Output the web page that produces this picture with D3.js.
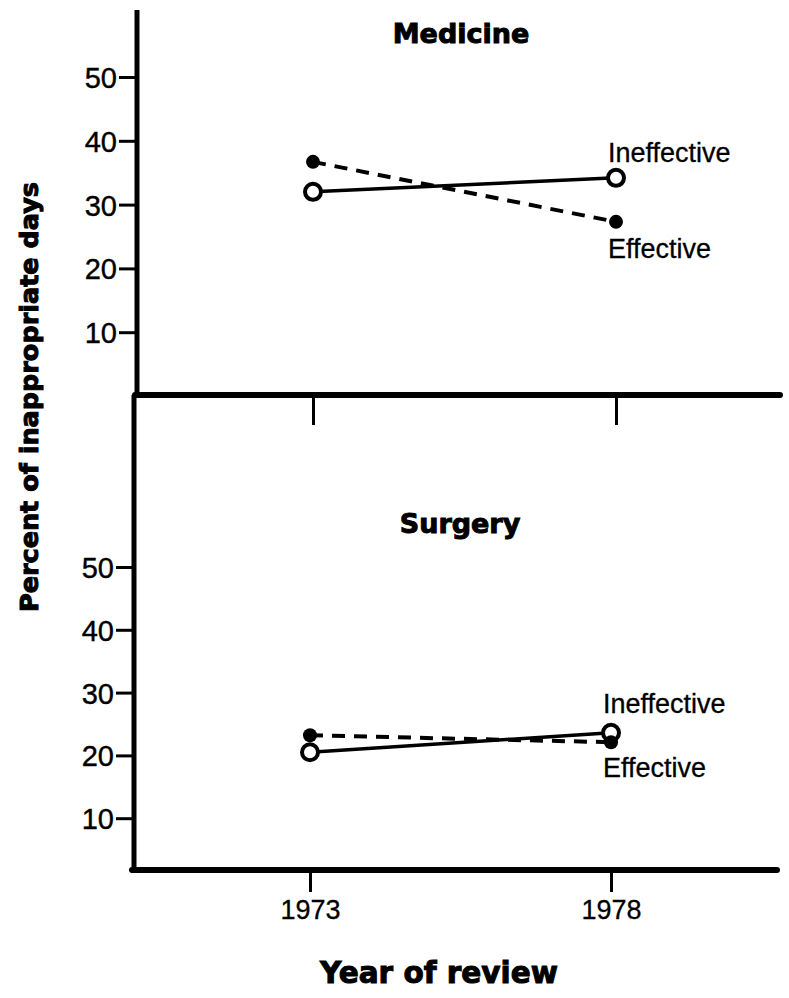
<!DOCTYPE html>
<html>
<head>
<meta charset="utf-8">
<script src="https://cdn.jsdelivr.net/npm/d3@7"></script>
<style>
  html, body { margin: 0; padding: 0; background: #fff; }
  svg { display: block; }
</style>
</head>
<body>
<svg id="chart" width="789" height="998"></svg>
<script>
// ---- data ----
const years = [1973, 1978];
const yTicks = [10, 20, 30, 40, 50];
const panels = ["Medicine", "Surgery"];
const medicineIneffective = [32.0, 34.2];
const medicineEffective = [36.7, 27.3];
const surgeryIneffective = [20.5, 23.6];
const surgeryEffective = [23.2, 22.1];
const seriesLabels = ["Ineffective", "Effective"];
const yTitle = "Percent of inappropriate days";
const xTitle = "Year of review";

// ---- layout ----
const svg = d3.select("#chart");
const ink = "#000";
const sansReg = "'Liberation Sans', Arial, Helvetica, sans-serif";
const sansBold = "'DejaVu Sans', 'Liberation Sans', sans-serif";

const layout = [
  { title: panels[0], ineff: medicineIneffective, eff: medicineEffective,
    axisX: 137, top: 10, bottomY: 395, right: 780,
    yRange: [396, 77], xRange: [313, 616], titleX: 461, titleY: 43,
    labIneffY: 162, labEffY: 258, tickLen: 30, xLabels: false },
  { title: panels[1], ineff: surgeryIneffective, eff: surgeryEffective,
    axisX: 134, top: 395, bottomY: 870, right: 777,
    yRange: [881, 567], xRange: [310, 611], titleX: 460, titleY: 533,
    labIneffY: 713, labEffY: 777, tickLen: 22, xLabels: true }
];

layout.forEach(p => {
  const g = svg.append("g");
  const y = d3.scaleLinear().domain([0, 50]).range(p.yRange);
  const x = d3.scaleLinear().domain(years).range(p.xRange);

  const yAxis = d3.axisLeft(y).tickValues(yTicks).tickSize(18).tickPadding(2).tickSizeOuter(0);
  const ya = g.append("g").attr("transform", `translate(${p.axisX},0)`).call(yAxis);
  ya.select(".domain").remove();
  ya.selectAll(".tick line").attr("stroke", ink).attr("stroke-width", 3);
  ya.selectAll(".tick text").attr("fill", ink)
    .style("font-family", sansReg).style("font-size", "29px").attr("dy", "0.36em")
    .attr("stroke", ink).attr("stroke-width", 0.4);

  g.append("line").attr("x1", p.axisX).attr("x2", p.axisX)
    .attr("y1", p.top).attr("y2", p.bottomY + 3)
    .attr("stroke", ink).attr("stroke-width", 5);

  const xAxis = d3.axisBottom(x).tickValues(years).tickFormat(d3.format("d"))
    .tickSize(p.tickLen).tickPadding(8).tickSizeOuter(0);
  const xa = g.append("g").attr("transform", `translate(0,${p.bottomY})`).call(xAxis);
  xa.select(".domain").remove();
  xa.selectAll(".tick line").attr("stroke", ink).attr("stroke-width", 3);
  xa.selectAll(".tick text").attr("fill", ink)
    .style("font-family", sansReg).style("font-size", "27px")
    .attr("stroke", ink).attr("stroke-width", 0.3)
    .style("display", p.xLabels ? null : "none");

  g.append("line").attr("x1", p.axisX - 2).attr("x2", p.right)
    .attr("y1", p.bottomY).attr("y2", p.bottomY)
    .attr("stroke", ink).attr("stroke-width", 6).attr("stroke-linecap", "round");

  g.append("text").attr("x", p.titleX).attr("y", p.titleY)
    .attr("text-anchor", "middle").attr("fill", ink)
    .attr("stroke", ink).attr("stroke-width", 1)
    .style("font-family", sansBold).style("font-weight", "bold").style("font-size", "27px")
    .text(p.title);

  const line = d3.line().x((d, i) => x(years[i])).y(d => y(d));
  g.append("path").datum(p.eff).attr("d", line)
    .attr("fill", "none").attr("stroke", ink).attr("stroke-width", 4)
    .attr("stroke-dasharray", "13,9");
  g.append("path").datum(p.ineff).attr("d", line)
    .attr("fill", "none").attr("stroke", ink).attr("stroke-width", 3.5);

  g.selectAll(".open").data(p.ineff).join("circle").attr("class", "open")
    .attr("cx", (d, i) => x(years[i])).attr("cy", d => y(d)).attr("r", 8)
    .attr("fill", "#fff").attr("stroke", ink).attr("stroke-width", 4);
  g.selectAll(".dot").data(p.eff).join("circle").attr("class", "dot")
    .attr("cx", (d, i) => x(years[i])).attr("cy", d => y(d)).attr("r", 7)
    .attr("fill", ink);

  const labX = x(years[1]) - 8;
  g.append("text").attr("x", labX).attr("y", p.labIneffY).attr("fill", ink)
    .attr("stroke", ink).attr("stroke-width", 0.3)
    .style("font-family", sansReg).style("font-size", "27px").text(seriesLabels[0]);
  g.append("text").attr("x", labX).attr("y", p.labEffY).attr("fill", ink)
    .attr("stroke", ink).attr("stroke-width", 0.3)
    .style("font-family", sansReg).style("font-size", "27px").text(seriesLabels[1]);
});

svg.append("text").attr("transform", "translate(38,397) rotate(-90)")
  .attr("text-anchor", "middle").attr("fill", ink)
  .attr("stroke", ink).attr("stroke-width", 1)
  .style("font-family", sansBold).style("font-weight", "bold").style("font-size", "25.5px")
  .text(yTitle);
svg.append("text").attr("x", 439).attr("y", 983)
  .attr("text-anchor", "middle").attr("fill", ink)
  .attr("stroke", ink).attr("stroke-width", 1)
  .style("font-family", sansBold).style("font-weight", "bold").style("font-size", "29.5px")
  .text(xTitle);
</script>
</body>
</html>
